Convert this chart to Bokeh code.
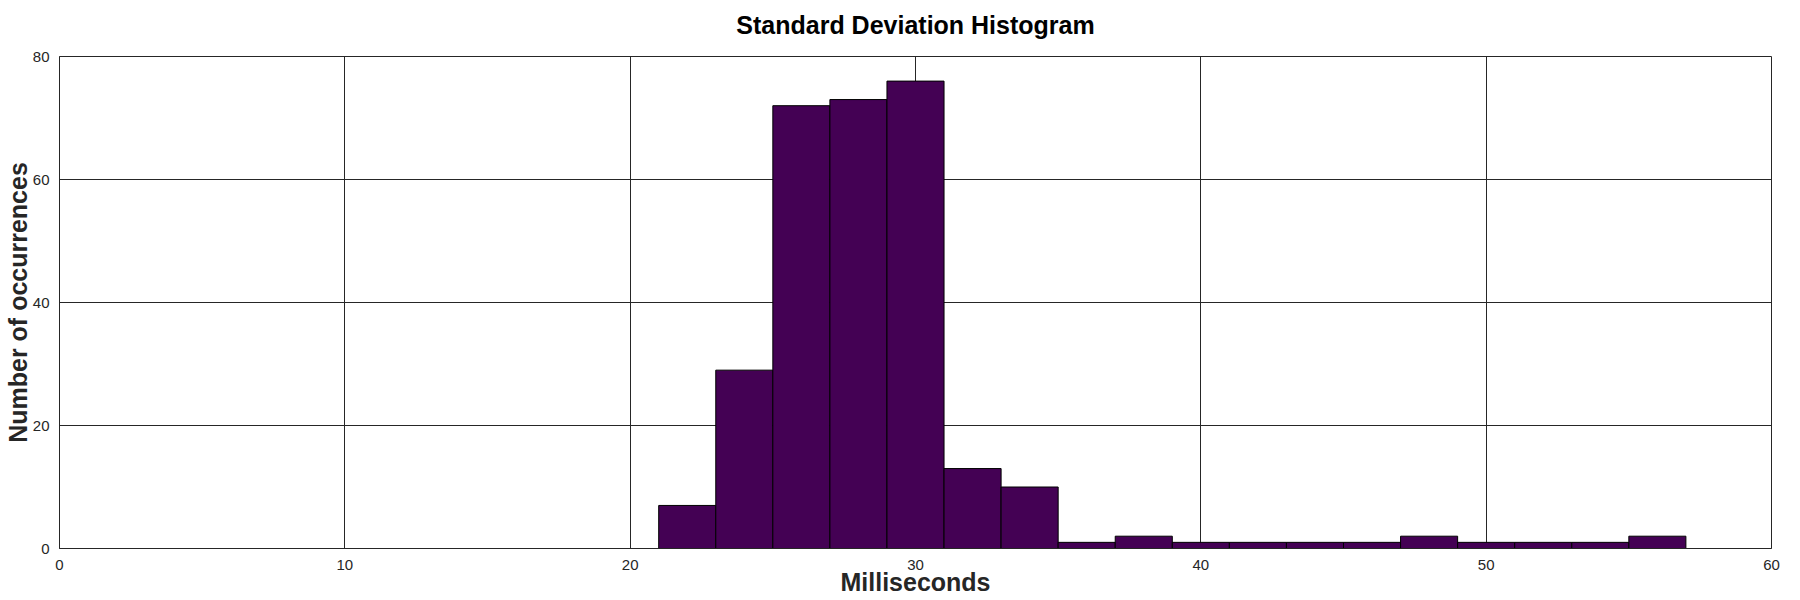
from bokeh.plotting import figure
from bokeh.models import Range1d, FixedTicker, LinearAxis
from bokeh.embed import file_html
from bokeh.resources import INLINE

# Histogram data (bin edges in milliseconds, counts per bin)
bin_edges = [21, 23, 25, 27, 29, 31, 33, 35, 37, 39, 41, 43, 45, 47, 49, 51, 53, 55, 57]
counts = [7, 29, 72, 73, 76, 13, 10, 1, 2, 1, 1, 1, 1, 2, 1, 1, 1, 2]
x_ticks = [0, 10, 20, 30, 40, 50, 60]
y_ticks = [0, 20, 40, 60, 80]

title_text = "Standard Deviation Histogram"
x_label_text = "Milliseconds"
y_label_text = "Number of occurrences"

FONT = "Liberation Sans"
DARK = "#262626"

p = figure(width=1784, height=600, output_backend="svg", toolbar_location=None,
           x_range=Range1d(0, 60), y_range=Range1d(0, 80),
           min_border_left=59, min_border_right=13, min_border_top=56, min_border_bottom=52)

p.quad(left=bin_edges[:-1], right=bin_edges[1:], bottom=0, top=counts,
       fill_color="#440154", line_color="black", line_width=1)

for ax in (p.xaxis[0], p.yaxis[0]):
    ax.axis_line_color = DARK
    ax.major_tick_in = 0
    ax.major_tick_out = 0
    ax.minor_tick_line_color = None
    ax.major_label_text_font = FONT
    ax.major_label_text_font_size = "15px"
    ax.major_label_text_color = DARK
    ax.axis_label_text_font = FONT
    ax.axis_label_text_font_size = "25px"
    ax.axis_label_text_font_style = "bold"
    ax.axis_label_text_color = DARK
    ax.axis_label_text_line_height = 1.0

p.xaxis.ticker = FixedTicker(ticks=x_ticks)
p.yaxis.ticker = FixedTicker(ticks=y_ticks)
p.xaxis.axis_label = x_label_text
p.yaxis.axis_label = y_label_text
p.xaxis.major_label_standoff = 11
p.xaxis.axis_label_standoff = -5
p.yaxis.major_label_standoff = 10
p.yaxis.axis_label_standoff = -2

# Title drawn as the label of a bare axis above the frame (precise placement)
top_axis = LinearAxis(ticker=FixedTicker(ticks=[]), axis_label=title_text,
                      axis_line_color=None, major_tick_line_color=None,
                      minor_tick_line_color=None, major_label_text_font_size="0px",
                      axis_label_text_font=FONT, axis_label_text_font_size="25px",
                      axis_label_text_font_style="bold", axis_label_text_color="black",
                      axis_label_standoff=18)
p.add_layout(top_axis, "above")

p.xgrid.ticker = FixedTicker(ticks=x_ticks)
p.ygrid.ticker = FixedTicker(ticks=y_ticks)
for g in (p.xgrid[0], p.ygrid[0]):
    g.grid_line_color = DARK
    g.grid_line_alpha = 1.0
    g.grid_line_width = 1

p.outline_line_color = DARK
p.outline_line_alpha = 1.0
p.outline_line_width = 1
p.background_fill_color = "white"
p.border_fill_color = "white"

open("out.html", "w").write(file_html(p, INLINE))
